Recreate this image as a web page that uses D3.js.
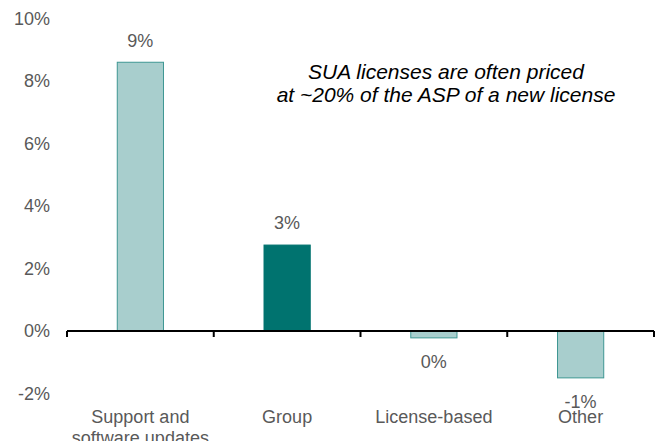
<html>
<script src='https://d3js.org/d3.v7.min.js'></script>
<style>
  body {margin: 0; background: #fff;}
  text {font-family: "Liberation Sans", Arial, sans-serif;}
</style>
<body>
<svg class="chart" width=665 height=441></svg>
<script>
// data
var categories = [["Support and", "software updates"], ["Group"], ["License-based"], ["Other"]];
var values = [8.6, 2.75, -0.22, -1.5];
var valueLabels = ["9%", "3%", "0%", "-1%"];
var highlighted = [false, true, false, false];
var yTicks = [-2, 0, 2, 4, 6, 8, 10];
var note = ["SUA licenses are often priced", "at ~20% of the ASP of a new license"];

var svg = d3.select(".chart");

var x = d3.scaleBand().domain(d3.range(categories.length)).range([67, 654]).padding(0);
var y = d3.scaleLinear().domain([-2, 10]).range([393.5, 18.5]);
var barW = x.bandwidth() * 0.315;

// y tick labels (no axis line)
svg.append("g")
  .selectAll("text").data(yTicks).enter()
  .append("text")
    .attr("x", 50)
    .attr("y", function(d){ return y(d); })
    .attr("dy", "0.35em")
    .attr("text-anchor", "end")
    .attr("font-size", 18)
    .attr("fill", "#595959")
    .text(function(d){ return d + "%"; });

// bars
svg.append("g")
  .selectAll("rect").data(values).enter()
  .append("rect")
    .attr("x", function(d, i){ return x(i) + (x.bandwidth() - barW) / 2; })
    .attr("y", function(d){ return y(Math.max(0, d)); })
    .attr("width", barW)
    .attr("height", function(d){ return Math.abs(y(d) - y(0)); })
    .attr("fill", function(d, i){ return highlighted[i] ? "#00736F" : "#A8CECD"; })
    .attr("stroke", function(d, i){ return highlighted[i] ? "#00736F" : "#3E9793"; })
    .attr("stroke-width", 1);

// zero axis with ticks at band edges
var axis = svg.append("g").attr("transform", "translate(0," + y(0) + ")");
axis.append("line")
  .attr("x1", x.range()[0]).attr("x2", x.range()[1])
  .attr("stroke", "#000").attr("stroke-width", 2);
axis.selectAll(".tk").data(d3.range(categories.length + 1)).enter()
  .append("line")
    .attr("class", "tk")
    .attr("x1", function(i){ return x.range()[0] + i * x.step(); })
    .attr("x2", function(i){ return x.range()[0] + i * x.step(); })
    .attr("y1", 0).attr("y2", 6)
    .attr("stroke", "#000").attr("stroke-width", 2);

// value labels
svg.append("g")
  .selectAll("text").data(values).enter()
  .append("text")
    .attr("x", function(d, i){ return x(i) + x.bandwidth() / 2; })
    .attr("y", function(d){ return d >= 0 ? y(d) - 22 : y(d) + 24; })
    .attr("dy", "0.35em")
    .attr("text-anchor", "middle")
    .attr("font-size", 18)
    .attr("fill", "#595959")
    .text(function(d, i){ return valueLabels[i]; });

// category labels
var cat = svg.append("g")
  .selectAll("text").data(categories).enter()
  .append("text")
    .attr("x", function(d, i){ return x(i) + x.bandwidth() / 2; })
    .attr("y", 417)
    .attr("text-anchor", "middle")
    .attr("font-size", 18)
    .attr("fill", "#595959");
cat.selectAll("tspan").data(function(d){ return d; }).enter()
  .append("tspan")
    .attr("x", function(){ return this.parentNode.getAttribute("x"); })
    .attr("dy", function(d, j){ return j === 0 ? "0.35em" : "1.15em"; })
    .text(function(d){ return d; });

// annotation
svg.append("g")
  .selectAll("text").data(note).enter()
  .append("text")
    .attr("x", 446)
    .attr("y", function(d, i){ return 72 + i * 23; })
    .attr("dy", "0.35em")
    .attr("text-anchor", "middle")
    .attr("font-size", 21)
    .attr("font-style", "italic")
    .attr("fill", "#000")
    .text(function(d){ return d; });
</script>
</body>
</html>
